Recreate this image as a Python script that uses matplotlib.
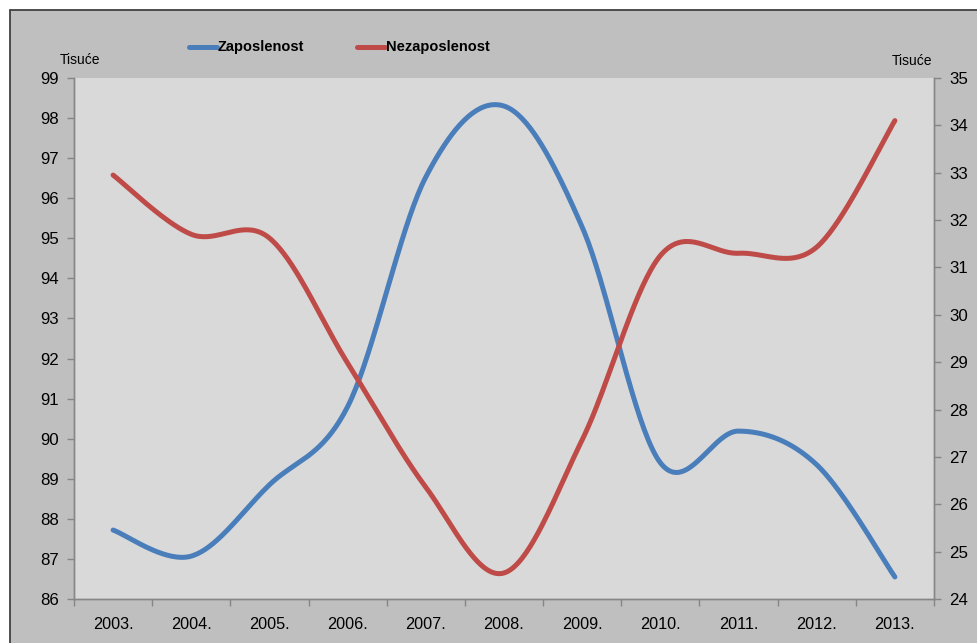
import numpy as np
import matplotlib
matplotlib.use("Agg")
import matplotlib.pyplot as plt
from matplotlib.patches import Rectangle
from matplotlib.lines import Line2D

plt.rcParams['font.family'] = ['Liberation Sans', 'DejaVu Sans']

years = ["2003.", "2004.", "2005.", "2006.", "2007.", "2008.",
         "2009.", "2010.", "2011.", "2012.", "2013."]
zaposlenost = [87.72, 87.07, 88.85, 90.8, 96.53, 98.3, 95.28, 89.4, 90.19, 89.35, 86.55]
nezaposlenost = [32.95, 31.7, 31.62, 28.98, 26.36, 24.55, 27.36, 31.25, 31.3, 31.43, 34.1]
left_ticks = list(range(86, 100))
right_ticks = list(range(24, 36))
series_names = ["Zaposlenost", "Nezaposlenost"]
unit_label = "Tisuće"

BLUE = '#4a7ebb'
RED = '#be4b48'
GRID = '#868686'


def smooth(vals, n=40):
    """Excel-style smoothed line (Catmull-Rom Bezier through the data points)."""
    y = np.asarray(vals, float)
    x = np.arange(len(y), dtype=float)
    pts = np.column_stack([x, y])
    out = []
    m = len(pts)
    for i in range(m - 1):
        p0 = pts[max(i - 1, 0)]
        p1 = pts[i]
        p2 = pts[i + 1]
        p3 = pts[min(i + 2, m - 1)]
        c1 = p1 + (p2 - p0) / 6.0
        c2 = p2 - (p3 - p1) / 6.0
        t = np.linspace(0, 1, n)[:, None]
        seg = (1 - t) ** 3 * p1 + 3 * (1 - t) ** 2 * t * c1 + 3 * (1 - t) * t ** 2 * c2 + t ** 3 * p2
        out.append(seg if i == 0 else seg[1:])
    return np.vstack(out)


W, H = 978, 643
fig = plt.figure(figsize=(W / 100, H / 100), dpi=100)
fig.patch.set_facecolor('white')

frame = Rectangle((10 / W, -0.05), 1.2, 1 - 10 / H + 0.05, transform=fig.transFigure,
                  facecolor='#bfbfbf', edgecolor='#404040', linewidth=1.3, zorder=-5)
fig.add_artist(frame)

ax = fig.add_axes([74 / W, 1 - 599 / H, (934 - 74) / W, (599 - 78) / H])
ax.set_facecolor('#d9d9d9')
ax2 = ax.twinx()

xs = np.arange(len(years))
b = smooth(zaposlenost)
r = smooth(nezaposlenost)
ax.plot(b[:, 0], b[:, 1], color=BLUE, lw=3.6, solid_capstyle='round', zorder=3)
ax2.plot(r[:, 0], r[:, 1], color=RED, lw=3.6, solid_capstyle='round', zorder=3)

ax.set_xlim(-0.5, len(years) - 0.5)
ax.set_ylim(86, 99)
ax2.set_ylim(24, 35)
ax.set_yticks(left_ticks)
ax2.set_yticks(right_ticks)
ax.set_xticks(xs)
ax.set_xticklabels(years)
ax.set_xticks(np.arange(-0.5, len(years)), minor=True)

for a in (ax, ax2):
    for s in a.spines.values():
        s.set_color(GRID)
        s.set_linewidth(1.0)
    a.spines['top'].set_visible(False)

ax.tick_params(axis='x', which='major', length=0, pad=13, labelsize=11.7)
ax.tick_params(axis='x', which='minor', length=5, color=GRID, width=1)
ax.tick_params(axis='y', length=5, color=GRID, width=1, pad=6, labelsize=12.2)
ax2.tick_params(axis='y', length=5, color=GRID, width=1, pad=6, labelsize=12.2)

# axis unit labels
fig.text(80 / W, 1 - 60 / H, unit_label, ha='center', va='center', fontsize=10)
fig.text(912 / W, 1 - 61 / H, unit_label, ha='center', va='center', fontsize=10)

# legend
ly = 1 - 47 / H
fig.add_artist(Line2D([189 / W, 217 / W], [ly, ly], transform=fig.transFigure,
                      color=BLUE, lw=3.6, solid_capstyle='round'))
fig.text(218 / W, ly, series_names[0], ha='left', va='center', fontsize=10.5, fontweight='bold')
fig.add_artist(Line2D([357 / W, 385 / W], [ly, ly], transform=fig.transFigure,
                      color=RED, lw=3.6, solid_capstyle='round'))
fig.text(386 / W, ly, series_names[1], ha='left', va='center', fontsize=10.5, fontweight='bold')

fig.savefig('out.png', dpi=100)
